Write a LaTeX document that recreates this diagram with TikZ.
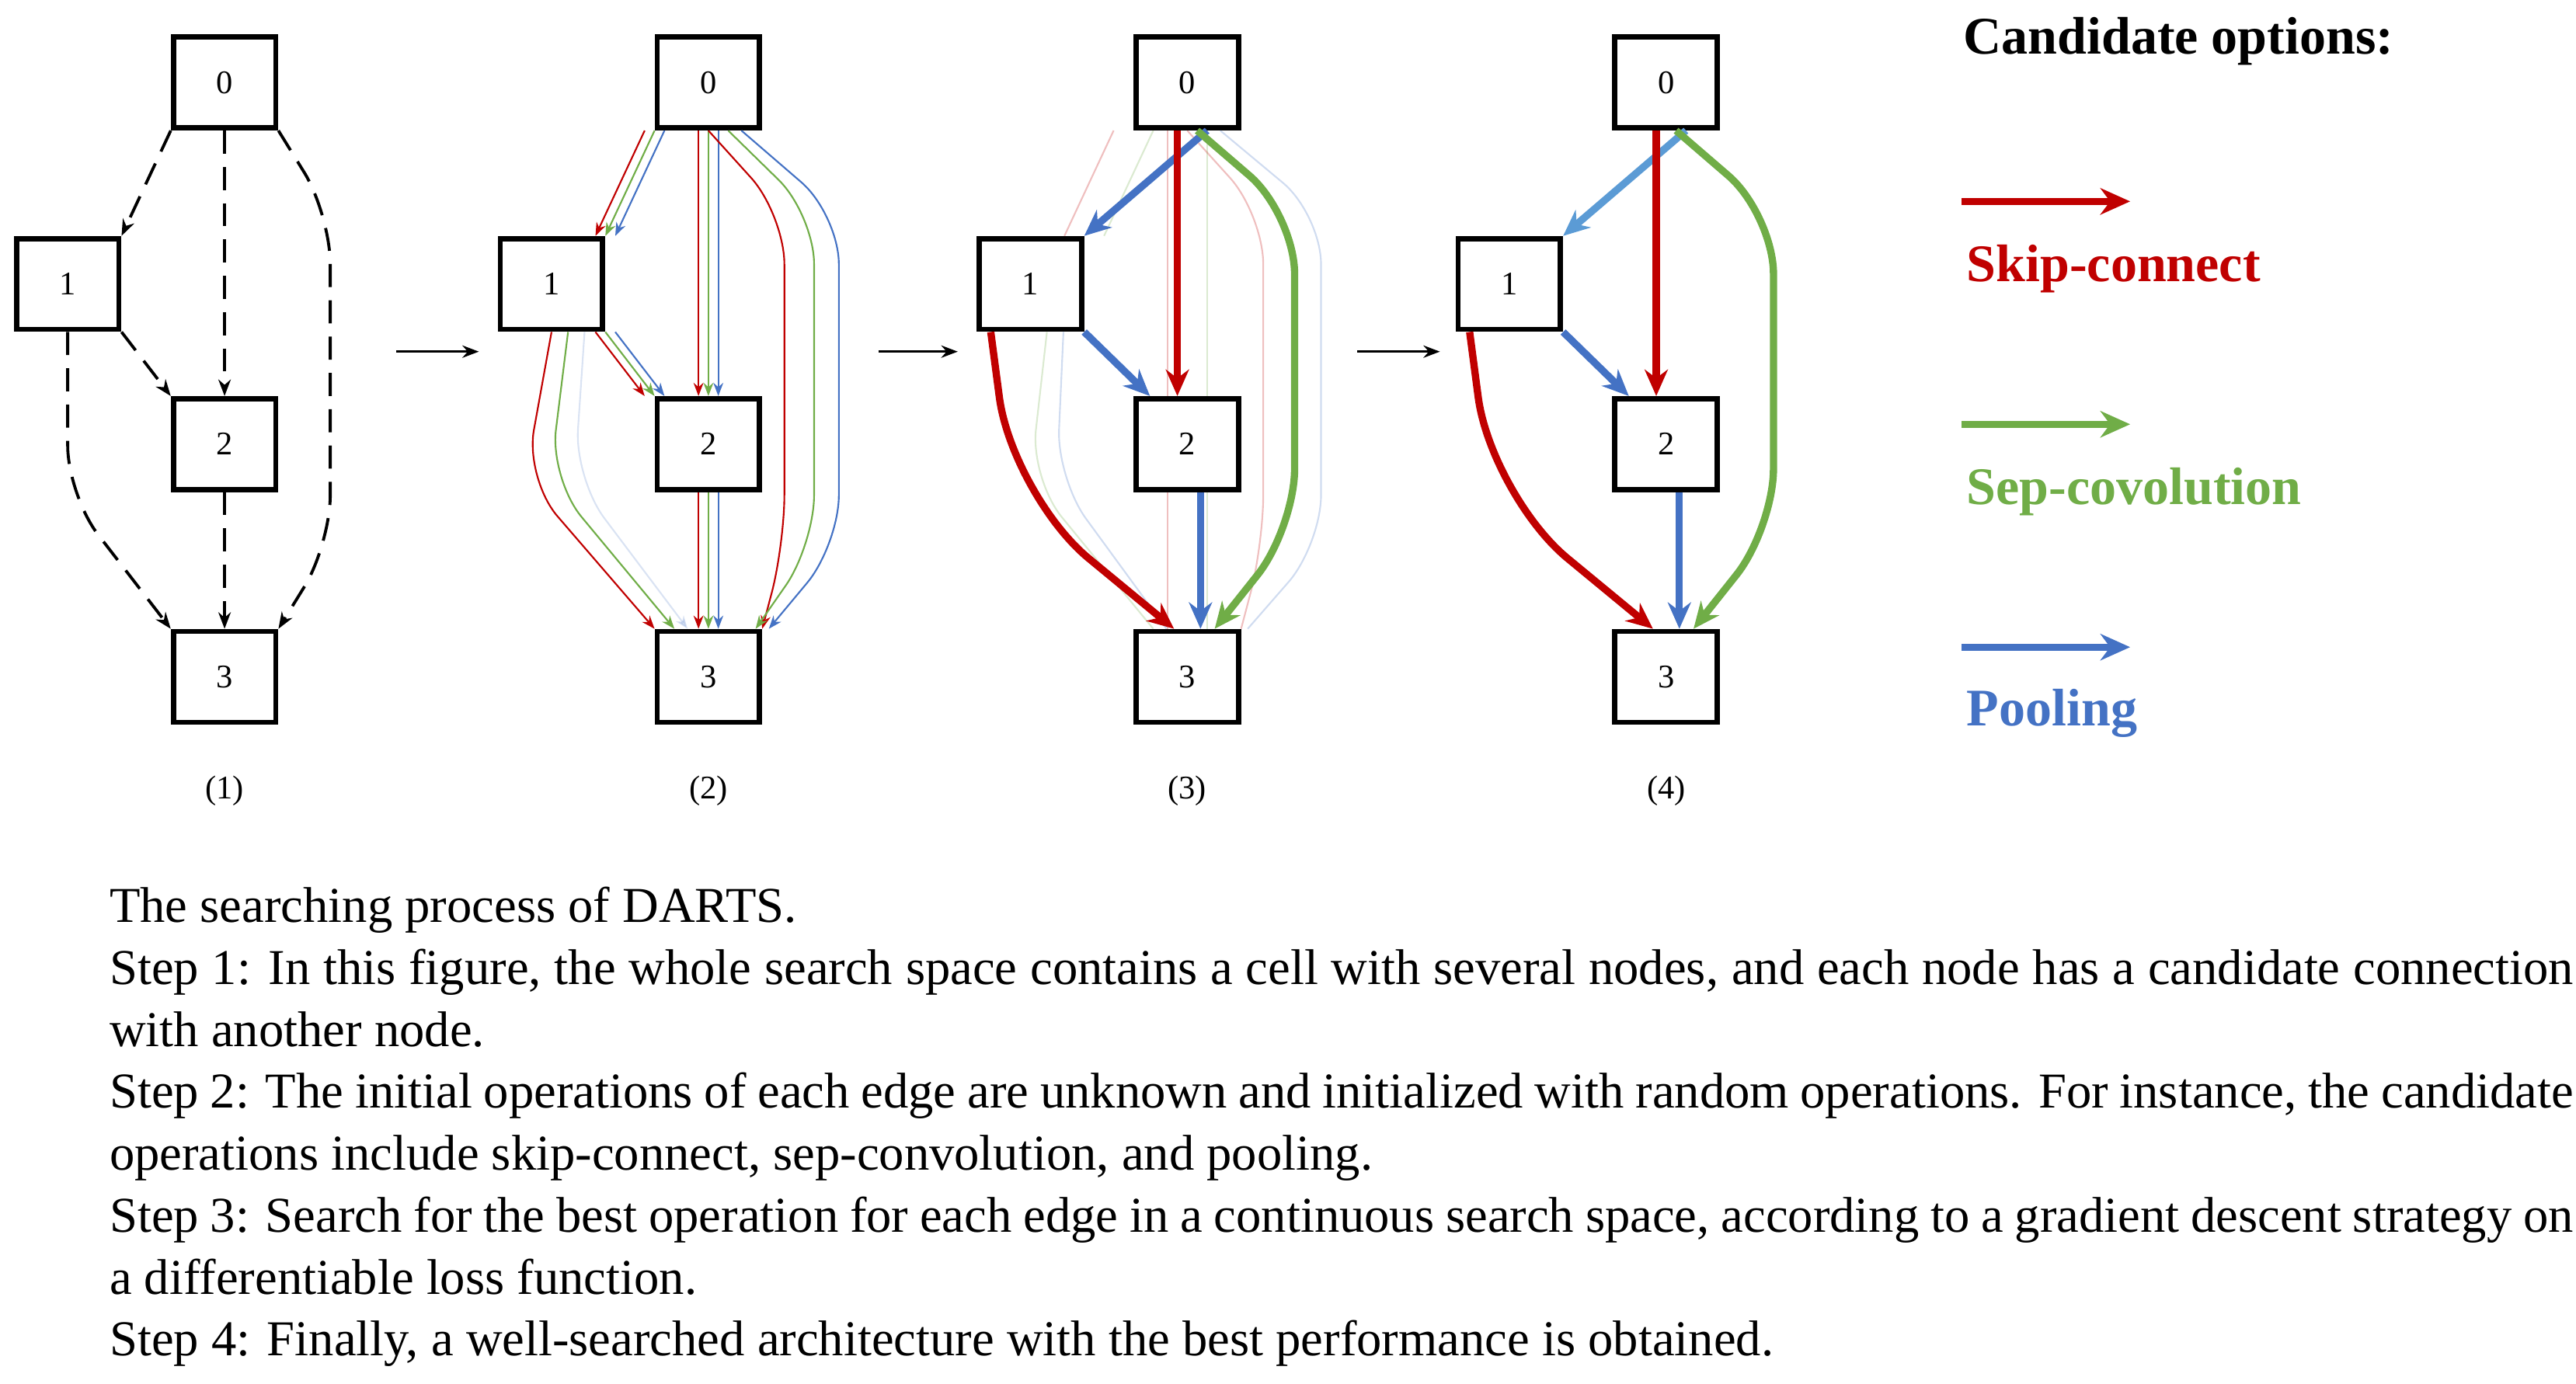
\documentclass[tikz,border=0pt]{standalone}
\usepackage{fontspec}
\setmainfont{Liberation Serif}
\usetikzlibrary{arrows.meta}
\definecolor{skipred}{RGB}{192,0,0}
\definecolor{sepgreen}{RGB}{112,173,71}
\definecolor{poolblue}{RGB}{68,114,196}
\definecolor{lightpool}{RGB}{91,155,213}
\tikzset{
  cellbox/.style={draw, line width=1.6pt, minimum width=31pt, minimum height=27.5pt, inner sep=0pt, font=\fontsize{10}{12}\selectfont, fill=white},
  dashedge/.style={dashed, dash pattern=on 7pt off 4pt, line width=0.9pt, -{Stealth[length=5pt]}},
  thinop/.style={line width=0.5pt, -{Stealth[length=4pt]}},
  faintop/.style={line width=0.5pt, opacity=0.25},
  thickop/.style={line width=2.2pt, -{Stealth[length=8pt,width=7pt]}},
  legarrow/.style={line width=2.2pt, -{Stealth[length=9pt,width=8pt]}},
  legtext/.style={font=\bfseries\fontsize{16}{18}\selectfont, anchor=west},
  steparrow/.style={line width=0.7pt, -{Stealth[length=5pt]}}
}
\begin{document}
\begin{tikzpicture}[x=0.5pt,y=-0.5pt]
\useasboundingbox (0,0) rectangle (1560,838);
% Zellen
\foreach \g/\x in {1/136,2/429,3/719,4/1009} {
  \node[cellbox] (g\g n0) at (\x,50) {0};
  \node[cellbox] (g\g n1) at (\x-95,172) {1};
  \node[cellbox] (g\g n2) at (\x,269) {2};
  \node[cellbox] (g\g n3) at (\x,410) {3};
  \node[font=\fontsize{10}{12}\selectfont] (g\g lab) at (\x,479) {(\g)};
}
% Schritt-Pfeile
\coordinate (s1a) at (240,213); \coordinate (s1b) at (290,213);
\coordinate (s2a) at (532,213); \coordinate (s2b) at (580,213);
\coordinate (s3a) at (822,213); \coordinate (s3b) at (872,213);
\draw[steparrow] (s1a) -- (s1b);
\draw[steparrow] (s2a) -- (s2b);
\draw[steparrow] (s3a) -- (s3b);
% Graph 1
\draw[dashedge] (g1n0.south west) -- (g1n1.north east);
\draw[dashedge] (g1n0.south) -- (g1n2.north);
\draw[dashedge] (g1n2.south) -- (g1n3.north);
\draw[dashedge] (g1n1.south east) -- (g1n2.north west);
\draw[dashedge, rounded corners=15pt] (g1n0.south east) -- (200,130) -- (200,330) -- (g1n3.north east);
\draw[dashedge, rounded corners=15pt] (g1n1.south) -- (41,300) -- (g1n3.north west);
% Graph 2
\foreach \c/\d in {skipred/-3,sepgreen/0,poolblue/3} {
  \draw[thinop,\c] ([xshift=\d pt]g2n0.south west) -- ([xshift=\d pt]g2n1.north east);
  \draw[thinop,\c] ([xshift=\d pt]g2n0.south) -- ([xshift=\d pt]g2n2.north);
  \draw[thinop,\c] ([xshift=\d pt]g2n2.south) -- ([xshift=\d pt]g2n3.north);
  \draw[thinop,\c] ([xshift=\d pt]g2n1.south east) -- ([xshift=\d pt]g2n2.north west);
}
\draw[thinop,skipred, rounded corners=15pt] (g2n0.south) -- (475,130) -- (475,330) -- (g2n3.north east);
\draw[thinop,sepgreen, rounded corners=15pt] ([xshift=6pt]g2n0.south) -- (493,130) -- (493,330) -- ([xshift=-2pt]g2n3.north east);
\draw[thinop,poolblue, rounded corners=15pt] ([xshift=10pt]g2n0.south) -- (508,130) -- (508,330) -- ([xshift=2pt]g2n3.north east);
\draw[thinop,skipred, rounded corners=15pt] (g2n1.south) -- (318,290) -- (g2n3.north west);
\draw[thinop,sepgreen, rounded corners=15pt] ([xshift=5pt]g2n1.south) -- (333,290) -- ([xshift=6pt]g2n3.north west);
\draw[thinop,poolblue, opacity=0.2, rounded corners=15pt] ([xshift=10pt]g2n1.south) -- (348,290) -- ([xshift=10pt]g2n3.north west);
% Graph 3: schwache Kanten
\foreach \c/\d in {skipred/-6,sepgreen/6} {
  \draw[faintop,\c] ([xshift=\d pt]g3n0.south west) -- ([xshift=\d pt]g3n1.north east);
  \draw[faintop,\c] ([xshift=\d pt]g3n0.south) -- ([xshift=\d pt]g3n2.north);
  \draw[faintop,\c] ([xshift=\d pt]g3n2.south) -- ([xshift=\d pt]g3n3.north);
}
\draw[faintop,skipred, rounded corners=15pt] (g3n0.south) -- (765,130) -- (765,330) -- (g3n3.north east);
\draw[faintop,poolblue, rounded corners=15pt] ([xshift=10pt]g3n0.south) -- (800,130) -- (800,330) -- ([xshift=2pt]g3n3.north east);
\draw[faintop,sepgreen, rounded corners=15pt] ([xshift=5pt]g3n1.south) -- (624,290) -- ([xshift=6pt]g3n3.north west);
\draw[faintop,poolblue, rounded corners=15pt] ([xshift=10pt]g3n1.south) -- (640,290) -- ([xshift=10pt]g3n3.north west);
% Graph 3 und 4: gewaehlte Kanten
\foreach \g/\x/\c in {3/719/poolblue,4/1009/lightpool} {
  \draw[thickop,\c] ([xshift=6pt]g\g n0.south) -- (g\g n1.north east);
  \draw[thickop,skipred] ([xshift=-3pt]g\g n0.south) -- ([xshift=-3pt]g\g n2.north);
  \draw[thickop,poolblue] (g\g n1.south east) -- ([xshift=5pt]g\g n2.north west);
  \draw[thickop,poolblue] ([xshift=4pt]g\g n2.south) -- ([xshift=4pt]g\g n3.north);
  \draw[thickop,sepgreen, rounded corners=18pt] ([xshift=3pt]g\g n0.south) -- (\x+65,130) -- (\x+65,320) -- ([xshift=-8pt]g\g n3.north east);
  \draw[thickop,skipred, rounded corners=30pt] ([xshift=-12pt]g\g n1.south) -- (\x-106,300) -- ([xshift=-4pt]g\g n3.north);
}
% Legende
\node[font=\bfseries\fontsize{16}{18}\selectfont, anchor=west] (legtitle) at (1182,25) {Candidate options:};
\coordinate (r1) at (1188,122); \coordinate (r2) at (1290,122);
\coordinate (gr1) at (1188,257); \coordinate (gr2) at (1290,257);
\coordinate (b1) at (1188,392); \coordinate (b2) at (1290,392);
\draw[legarrow,skipred] (r1) -- (r2);
\draw[legarrow,sepgreen] (gr1) -- (gr2);
\draw[legarrow,poolblue] (b1) -- (b2);
\node[legtext, text=skipred] (legskip) at (1184,163) {Skip-connect};
\node[legtext, text=sepgreen] (legsep) at (1184,298) {Sep-covolution};
\node[legtext, text=poolblue] (legpool) at (1184,432) {Pooling};
% Bildunterschrift
\node[anchor=north west, text width=746pt, align=justify, inner sep=0pt,
  font=\fontsize{15.2}{18.75}\selectfont] (caption) at (66,537) {%
The searching process of DARTS.\\
Step 1: In this figure, the whole search space contains a cell with several nodes, and each node has a candidate connection with another node.\\
Step 2: The initial operations of each edge are unknown and initialized with random operations. For instance, the candidate operations include skip-connect, sep-convolution, and pooling.\\
Step 3: Search for the best operation for each edge in a continuous search space, according to a gradient descent strategy on a differentiable loss function.\\
Step 4: Finally, a well-searched architecture with the best performance is obtained.};
\end{tikzpicture}
\end{document}
